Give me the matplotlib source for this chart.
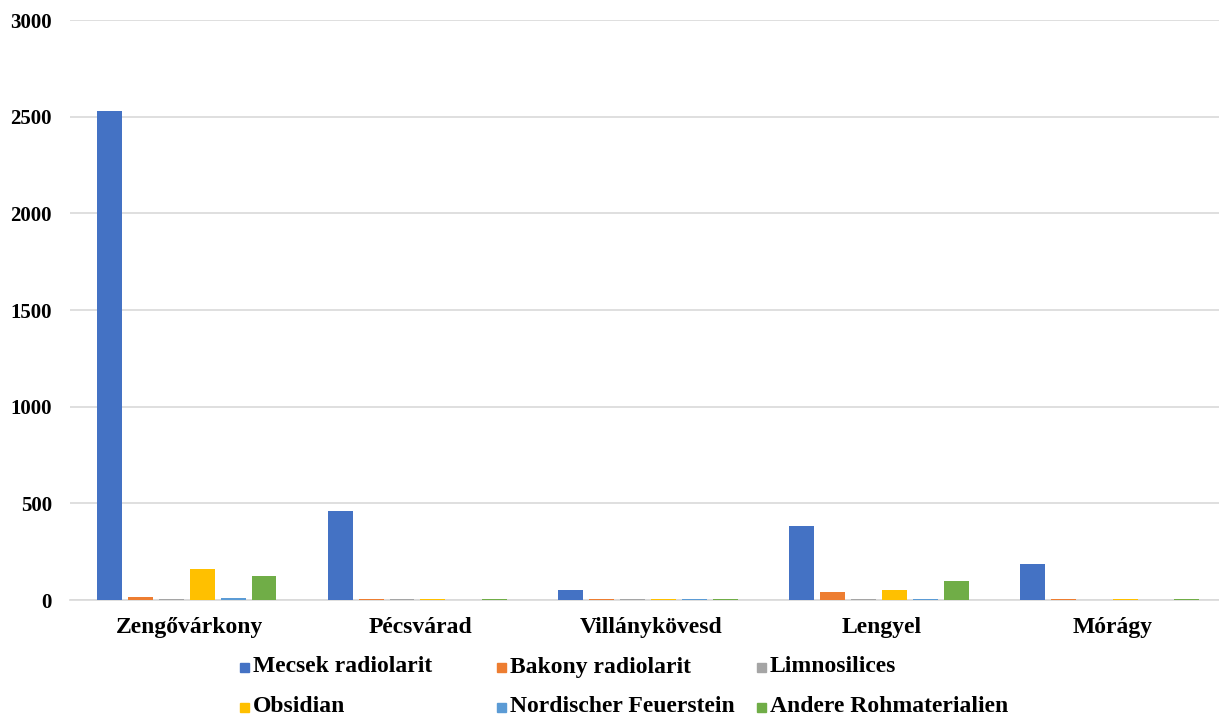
import matplotlib.pyplot as plt
from matplotlib.patches import Rectangle
import numpy as np

sites = ["Zengővárkony", "Pécsvárad", "Villánykövesd", "Lengyel", "Mórágy"]
series_names = ["Mecsek radiolarit", "Bakony radiolarit", "Limnosilices",
                "Obsidian", "Nordischer Feuerstein", "Andere Rohmaterialien"]
mecsek = [2530, 462, 52, 383, 186]
bakony = [18, 5, 5, 43, 5]
limnosilices = [6, 5, 5, 5, 0]
obsidian = [160, 6, 6, 53, 6]
nordisch = [8, 0, 5, 6, 0]
andere = [125, 5, 5, 97, 5]
y_ticks = [0, 500, 1000, 1500, 2000, 2500, 3000]

series = [mecsek, bakony, limnosilices, obsidian, nordisch, andere]
colors = ["#4472C4", "#ED7D31", "#A5A5A5", "#FFC000", "#5B9BD5", "#70AD47"]

W, H = 1219, 716
fig = plt.figure(figsize=(W / 100, H / 100), dpi=100)
ax = fig.add_axes([70 / W, 116 / H, 1149 / W, 580 / H])

font = dict(family="Liberation Serif", weight="bold")

x = np.arange(len(sites))
pitch = 0.134
width = 0.108
for i, (vals, c) in enumerate(zip(series, colors)):
    ax.bar(x + (i - 2.5) * pitch - 0.014, vals, width=width, color=c, zorder=3)

ax.set_ylim(0, 3000)
ax.set_xlim(-0.52, 4.46)
ax.set_yticks(y_ticks)
ax.set_yticklabels([str(t) for t in y_ticks], fontsize=15, **font)
ax.set_xticks(x)
ax.set_xticklabels(sites, fontsize=17, **font)
ax.tick_params(axis="both", length=0, colors="#000000")
ax.tick_params(axis="y", pad=13)
ax.tick_params(axis="x", pad=12)
ax.yaxis.grid(True, color="#d9d9d9", linewidth=1.2, zorder=0)
for side in ["left", "right", "top"]:
    ax.spines[side].set_visible(False)
ax.spines["bottom"].set_color("#d9d9d9")
ax.spines["bottom"].set_linewidth(1.2)

# Legend laid out in two rows of three fixed-width columns
col_x = [240, 497, 757]
row_y = [667, 707]
for i, (name, c) in enumerate(zip(series_names, colors)):
    px = col_x[i % 3]
    py = row_y[i // 3]
    fig.add_artist(Rectangle((px / W, 1 - (py + 5) / H), 9 / W, 9 / H,
                             transform=fig.transFigure, color=c))
    fig.text((px + 13) / W, 1 - py / H, name, fontsize=17, va="center",
             ha="left", **font)

fig.savefig("out.png", dpi=100)
